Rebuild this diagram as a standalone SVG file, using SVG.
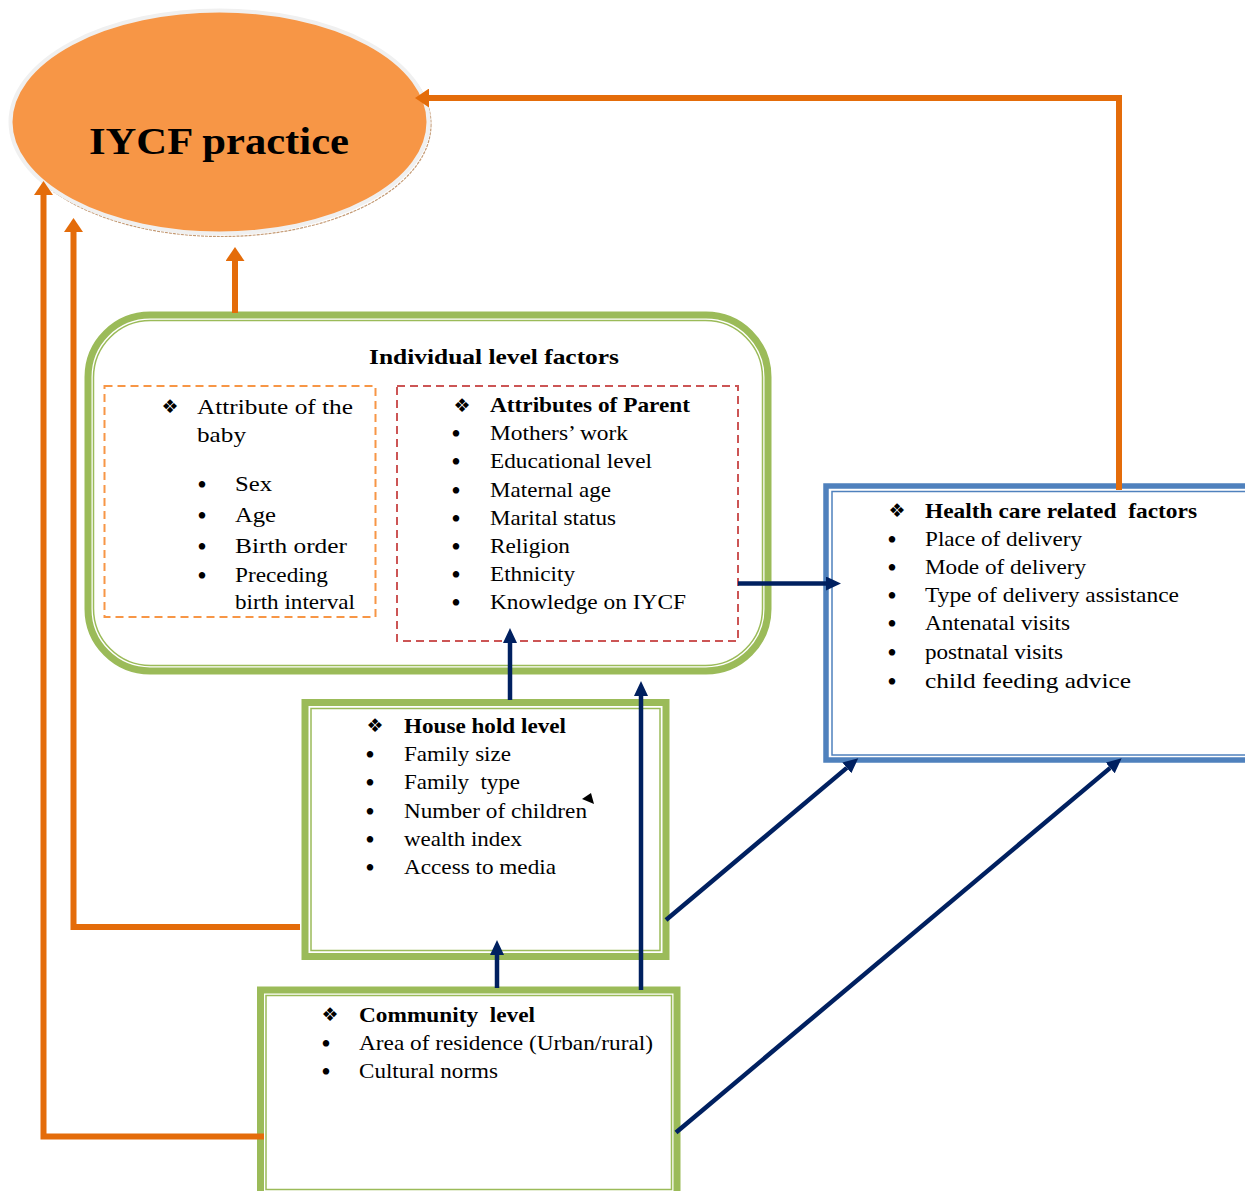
<svg xmlns="http://www.w3.org/2000/svg" width="1245" height="1191" viewBox="0 0 1245 1191">
<style>
.t{font-family:"Liberation Serif","Times New Roman",serif;font-size:21px;fill:#000;white-space:pre}
.b{font-weight:bold}
.big{font-size:37px}
.dm{font-family:"DejaVu Sans",sans-serif;font-size:19px;fill:#000;text-anchor:middle}
.bu{font-family:"Liberation Serif","Times New Roman",serif;font-size:27px;fill:#000;text-anchor:middle}
.gT{fill:none;stroke:#9BBB59;stroke-width:7}
.gt{fill:none;stroke:#9BBB59;stroke-width:1.5}
.bT{fill:none;stroke:#4F81BD;stroke-width:5.5}
.bt{fill:none;stroke:#4F81BD;stroke-width:1.5}
.oc{fill:none;stroke:#E46C0A;stroke-width:6}
.nc{fill:none;stroke:#002060;stroke-width:4.5}
</style>
<defs>
<marker id="ao" markerUnits="userSpaceOnUse" markerWidth="15" markerHeight="19" refX="0" refY="9.5" orient="auto"><path d="M0,0 L14,9.5 L0,19 z" fill="#E46C0A"/></marker>
<marker id="an" markerUnits="userSpaceOnUse" markerWidth="16" markerHeight="14" refX="0" refY="7" orient="auto"><path d="M0,0 L15,7 L0,14 z" fill="#002060"/></marker>
</defs>
<rect width="1245" height="1191" fill="#fff"/>

<g id="iycf">
<ellipse cx="221.5" cy="124.5" rx="209.5" ry="112" fill="#fff" stroke="#C49A74" stroke-width="1.2" stroke-dasharray="3 1"/>
<ellipse cx="219.5" cy="122" rx="209" ry="111.5" fill="#F79646" stroke="#F0F0F0" stroke-width="4"/>
<text class="t b big" x="89" y="154" textLength="260" lengthAdjust="spacingAndGlyphs">IYCF practice</text>
</g>

<g id="individual">
<rect class="gT" x="88" y="315" width="680" height="356" rx="62" stroke-width="6"/>
<rect class="gt" x="93.5" y="320.5" width="669" height="345" rx="57"/>
<text class="t b" x="369" y="364" textLength="250" lengthAdjust="spacingAndGlyphs">Individual level factors</text>
</g>

<g id="baby">
<rect x="104.5" y="386" width="271" height="231" fill="none" stroke="#F79646" stroke-width="2" stroke-dasharray="8 5"/>
<text class="dm" x="170" y="413">❖</text>
<text class="t" x="197" y="414" textLength="156" lengthAdjust="spacingAndGlyphs">Attribute of the</text>
<text class="t" x="197" y="442" textLength="49" lengthAdjust="spacingAndGlyphs">baby</text>
<text class="bu" x="202" y="494">•</text>
<text class="t" x="235" y="491" textLength="37" lengthAdjust="spacingAndGlyphs">Sex</text>
<text class="bu" x="202" y="525">•</text>
<text class="t" x="235" y="522" textLength="41" lengthAdjust="spacingAndGlyphs">Age</text>
<text class="bu" x="202" y="556">•</text>
<text class="t" x="235" y="553" textLength="112" lengthAdjust="spacingAndGlyphs">Birth order</text>
<text class="bu" x="202" y="585">•</text>
<text class="t" x="235" y="582" textLength="93" lengthAdjust="spacingAndGlyphs">Preceding</text>
<text class="t" x="235" y="609" textLength="120" lengthAdjust="spacingAndGlyphs">birth interval</text>
</g>

<g id="parent">
<rect x="397" y="386" width="341" height="255" fill="none" stroke="#CC5555" stroke-width="2" stroke-dasharray="8 5"/>
<text class="dm" x="462" y="412">❖</text>
<text class="t b" x="490" y="412" textLength="200" lengthAdjust="spacingAndGlyphs">Attributes of Parent</text>
<text class="bu" x="456" y="443">•</text>
<text class="t" x="490" y="440" textLength="138" lengthAdjust="spacingAndGlyphs">Mothers’ work</text>
<text class="bu" x="456" y="471">•</text>
<text class="t" x="490" y="468" textLength="162" lengthAdjust="spacingAndGlyphs">Educational level</text>
<text class="bu" x="456" y="500">•</text>
<text class="t" x="490" y="497" textLength="121" lengthAdjust="spacingAndGlyphs">Maternal age</text>
<text class="bu" x="456" y="528">•</text>
<text class="t" x="490" y="525" textLength="126" lengthAdjust="spacingAndGlyphs">Marital status</text>
<text class="bu" x="456" y="556">•</text>
<text class="t" x="490" y="553" textLength="80" lengthAdjust="spacingAndGlyphs">Religion</text>
<text class="bu" x="456" y="584">•</text>
<text class="t" x="490" y="581" textLength="85" lengthAdjust="spacingAndGlyphs">Ethnicity</text>
<text class="bu" x="456" y="612">•</text>
<text class="t" x="490" y="609" textLength="196" lengthAdjust="spacingAndGlyphs">Knowledge on IYCF</text>
</g>

<g id="health">
<rect class="bT" x="826" y="486" width="500" height="274"/>
<rect class="bt" x="832" y="491.5" width="500" height="263.5"/>
<text class="dm" x="897" y="517">❖</text>
<text class="t b" x="925" y="518" textLength="272" lengthAdjust="spacingAndGlyphs">Health care related  factors</text>
<text class="bu" x="892" y="549">•</text>
<text class="t" x="925" y="546" textLength="157" lengthAdjust="spacingAndGlyphs">Place of delivery</text>
<text class="bu" x="892" y="577">•</text>
<text class="t" x="925" y="574" textLength="161" lengthAdjust="spacingAndGlyphs">Mode of delivery</text>
<text class="bu" x="892" y="605">•</text>
<text class="t" x="925" y="602" textLength="254" lengthAdjust="spacingAndGlyphs">Type of delivery assistance</text>
<text class="bu" x="892" y="633">•</text>
<text class="t" x="925" y="630" textLength="145" lengthAdjust="spacingAndGlyphs">Antenatal visits</text>
<text class="bu" x="892" y="662">•</text>
<text class="t" x="925" y="659" textLength="138" lengthAdjust="spacingAndGlyphs">postnatal visits</text>
<text class="bu" x="892" y="691">•</text>
<text class="t" x="925" y="688" textLength="206" lengthAdjust="spacingAndGlyphs">child feeding advice</text>
</g>

<g id="household">
<rect class="gT" x="305" y="702.5" width="361" height="254"/>
<rect class="gt" x="311" y="708.5" width="349" height="242"/>
<text class="dm" x="375" y="732">❖</text>
<text class="t b" x="404" y="733" textLength="162" lengthAdjust="spacingAndGlyphs">House hold level</text>
<text class="bu" x="370" y="764">•</text>
<text class="t" x="404" y="761" textLength="107" lengthAdjust="spacingAndGlyphs">Family size</text>
<text class="bu" x="370" y="792">•</text>
<text class="t" x="404" y="789" textLength="116" lengthAdjust="spacingAndGlyphs">Family  type</text>
<text class="bu" x="370" y="821">•</text>
<text class="t" x="404" y="818" textLength="183" lengthAdjust="spacingAndGlyphs">Number of children</text>
<text class="bu" x="370" y="849">•</text>
<text class="t" x="404" y="846" textLength="118" lengthAdjust="spacingAndGlyphs">wealth index</text>
<text class="bu" x="370" y="877">•</text>
<text class="t" x="404" y="874" textLength="152" lengthAdjust="spacingAndGlyphs">Access to media</text>
<polygon points="582,799 591,793 594,804" fill="#000"/>
</g>

<g id="community">
<rect class="gT" x="260.5" y="990" width="416.5" height="230" stroke-width="6"/>
<rect class="gt" x="266" y="995.5" width="405.5" height="194"/>
<text class="dm" x="330" y="1021">❖</text>
<text class="t b" x="359" y="1022" textLength="176" lengthAdjust="spacingAndGlyphs">Community  level</text>
<text class="bu" x="326" y="1053">•</text>
<text class="t" x="359" y="1050" textLength="294" lengthAdjust="spacingAndGlyphs">Area of residence (Urban/rural)</text>
<text class="bu" x="326" y="1081">•</text>
<text class="t" x="359" y="1078" textLength="139" lengthAdjust="spacingAndGlyphs">Cultural norms</text>
</g>

<g id="connectors">
<path class="oc" d="M1119,490 L1119,98 L429,98" marker-end="url(#ao)"/>
<path class="oc" d="M235,313 L235,261" marker-end="url(#ao)"/>
<path class="oc" d="M300,927 L73.5,927 L73.5,232" marker-end="url(#ao)"/>
<path class="oc" d="M264,1136.5 L43.5,1136.5 L43.5,195" marker-end="url(#ao)"/>
<path class="nc" d="M510,700 L510,643" marker-end="url(#an)"/>
<path class="nc" d="M641,990 L641,696" marker-end="url(#an)"/>
<path class="nc" d="M497,988 L497,955" marker-end="url(#an)"/>
<path class="nc" d="M738,583.5 L826,583.5" marker-end="url(#an)"/>
<path class="nc" d="M666,920 L846.8,767.9" marker-end="url(#an)"/>
<path class="nc" d="M676,1132.5 L1110.2,767.9" marker-end="url(#an)"/>
</g>
</svg>
